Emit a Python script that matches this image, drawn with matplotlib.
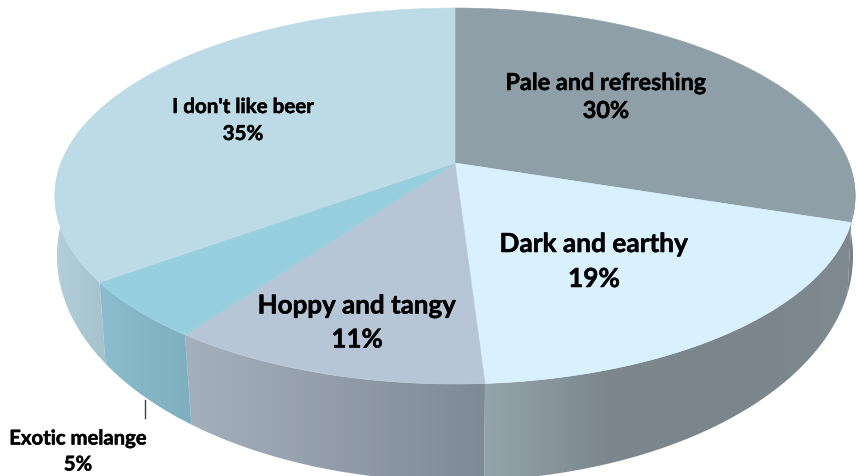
import numpy as np
from matplotlib import pyplot as plt
from matplotlib import patheffects as pe
from matplotlib.colors import LinearSegmentedColormap
from matplotlib.patches import Polygon

# slices in clockwise order, starting at 12 o'clock
labels = ["Pale and refreshing", "Dark and earthy", "Hoppy and tangy", "Exotic melange", "I don't like beer"]
shares = [30, 19, 11, 5, 35]

top_colors = ["#8f9fa8", "#d9f0fe", "#b6c6d6", "#98cfdf", "#bddbe6"]
# colours of the side wall, left to right
wall_colors = [("#7b868d", "#75808a"), ("#95a4ac", "#7c878e", "#7a858c", "#7e8990"),
               ("#a5b0bd", "#7e8a95"), ("#8bbdcc", "#7eafbf"), ("#b3d0da", "#a6c1cc")]

label_xy = [(606, 96), (594, 260), (357, 321), (78, 450), (243, 119)]
label_size = [16.9, 18.9, 18.7, 14.6, 14.8]
label_gap = [28, 35, 34, 26, 27]


# perspective projection of the unit circle, found from the rim points of the picture
def top_rim(a):
    u, v = np.sin(a), np.cos(a)
    w = 1 + 0.1756 * v
    return 455 + 394 * u / w, 163 - 182.2 * v / w


def bottom_rim(a):
    u, v = np.sin(a), np.cos(a)
    w = 1 + 0.152 * v
    return 455 + 393.4 * u / w, 221.8 - 219.8 * v / w


fig = plt.figure(figsize=(8.57, 4.76), dpi=100)
ax = fig.add_axes([0, 0, 1, 1])

cum = np.cumsum([0] + shares) / sum(shares) * 2 * np.pi
front_start, front_end = np.radians(78), np.radians(282)

# side walls
for i in range(len(shares)):
    a0, a1 = max(cum[i], front_start), min(cum[i + 1], front_end)
    a = np.linspace(a0, a1, 120)
    xt, yt = top_rim(a)
    xb, yb = bottom_rim(a)
    pts = np.column_stack([np.r_[xt, xb[::-1]], np.r_[yt, yb[::-1]]])
    cm = LinearSegmentedColormap.from_list("w", wall_colors[i])
    im = ax.imshow(np.linspace(0, 1, 256).reshape(1, -1), cmap=cm, aspect="auto", zorder=2,
                   extent=[pts[:, 0].min(), pts[:, 0].max(), 500, 0])
    patch = Polygon(pts, closed=True, fc="none", ec="none", transform=ax.transData)
    ax.add_patch(patch)
    im.set_clip_path(patch)

# top surface, centre of the pie is where the slices meet
for i in range(len(shares)):
    a = np.linspace(cum[i], cum[i + 1], 200)
    x, y = top_rim(a)
    pts = np.column_stack([np.r_[455, x], np.r_[163, y]])
    ax.add_patch(Polygon(pts, closed=True, fc=top_colors[i], ec=top_colors[i], lw=0.4, zorder=3))

# leader line of the small slice
ax.plot([145, 145], [400, 418], color="#404040", lw=1, zorder=4)

heavy = [pe.withStroke(linewidth=0.35, foreground="black")]
for name, val, (x, y), fs, gap in zip(labels, shares, label_xy, label_size, label_gap):
    for txt, yy in ((name, y - gap / 2 + 1.5), ("%d%%" % val, y + gap / 2 + 1.5)):
        ax.text(x, yy, txt, ha="center", va="center", fontsize=fs, fontweight="bold",
                family="Lato", color="black", zorder=5, path_effects=heavy)

ax.set_xlim(0, 857)
ax.set_ylim(476, 0)
ax.axis("off")
fig.savefig("out.png", dpi=100)
